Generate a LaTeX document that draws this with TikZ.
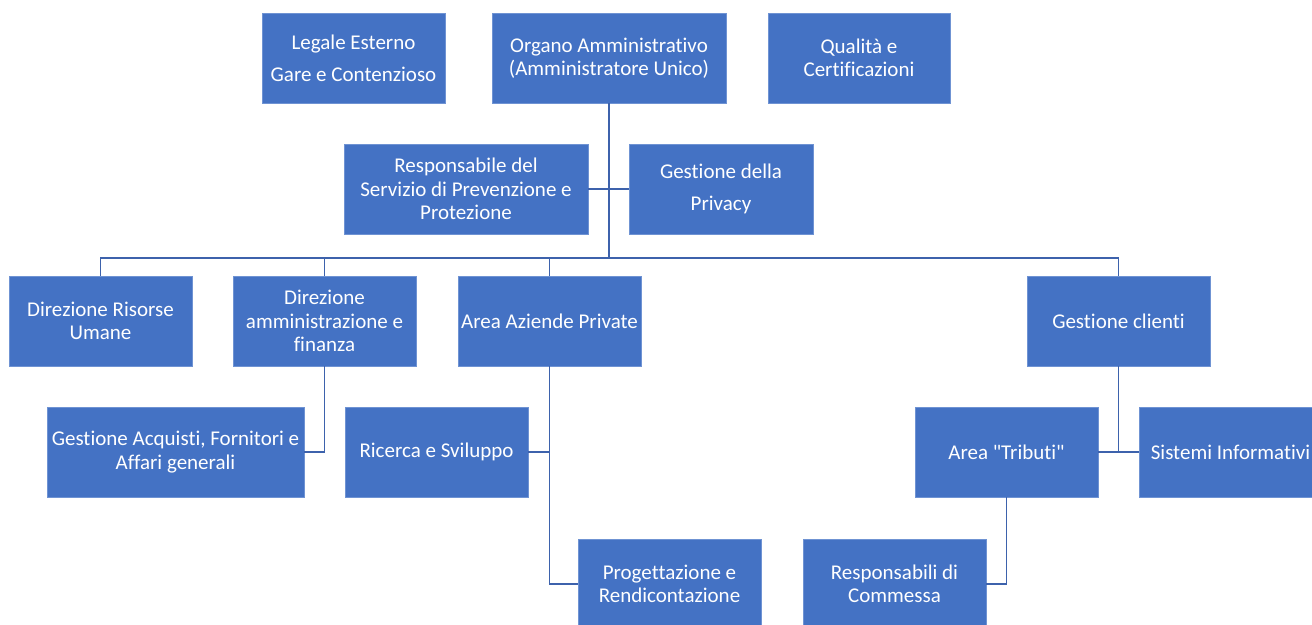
\documentclass[tikz,border=0pt]{standalone}
\usepackage{fontspec}
\setmainfont{Carlito}[Ligatures={NoCommon,TeXOff}]
\definecolor{boxblue}{HTML}{4472C4}
\definecolor{boxedge}{HTML}{6F93D3}
\definecolor{linkblue}{HTML}{3D62AC}
\begin{document}
\begin{tikzpicture}[x=1pt,y=-1pt,
  box/.style={rectangle, fill=boxblue, draw=boxedge, line width=0.6pt, text=white,
    minimum height=90pt, inner sep=1pt, align=center,
    font=\fontsize{21}{23.5}\selectfont},
  conn/.style={draw=linkblue, line width=1.6pt}]
\useasboundingbox (0,0) rectangle (1312,624);
\fill[white] (0,0) rectangle (1312,624);
% top row
\node[box, minimum width=183pt] (leg) at (353.5,58) {Legale Esterno\\[8.5pt]Gare e Contenzioso};
\node[box, minimum width=234pt] (org) at (609,58) {Organo Amministrativo\\(Amministratore Unico)};
\node[box, minimum width=182pt] (qual) at (859,58) {Qualità e\\Certificazioni};
% assistants
\node[box, minimum width=244pt] (rspp) at (466,189) {Responsabile del\\Servizio di Prevenzione e\\Protezione};
\node[box, minimum width=184pt] (priv) at (721,189) {Gestione della\\[8.5pt]Privacy};
% second level
\node[box, minimum width=183pt] (dru) at (100.5,321) {Direzione Risorse\\Umane};
\node[box, minimum width=183pt] (dam) at (324.5,321) {Direzione\\amministrazione e\\finanza};
\node[box, minimum width=183pt] (aap) at (549.5,321) {Area Aziende Private};
\node[box, minimum width=183pt] (gcl) at (1118.5,321) {Gestione clienti};
% third level
\node[box, minimum width=257pt] (gaq) at (175.5,452) {Gestione Acquisti, Fornitori e\\Affari generali};
\node[box, minimum width=183pt] (rsv) at (436.5,452) {Ricerca e Sviluppo};
\node[box, minimum width=183pt] (trib) at (1006.5,452) {Area "Tributi"};
\node[box, minimum width=183pt] (sist) at (1230.5,452) {Sistemi Informativi};
% fourth level
\node[box, minimum width=183pt] (prog) at (669.5,584) {Progettazione e\\Rendicontazione};
\node[box, minimum width=183pt] (resp) at (894.5,584) {Responsabili di\\Commessa};
% connectors
\draw[conn] (org.south) -- ++(0,155);
\draw[conn] (rspp.east) -- (priv.west);
\draw[conn] (dru.north) -- ++(0,-18) -| (gcl.north);
\draw[conn] (dam.north) -- ++(0,-18);
\draw[conn] (aap.north) -- ++(0,-18);
\draw[conn] (dam.south) |- (gaq.east);
\draw[conn] (aap.south) |- (prog.west);
\draw[conn] (rsv.east) -- (rsv.east -| aap.south);
\draw[conn] (gcl.south) -- ++(0,86);
\draw[conn] (trib.east) -- (sist.west);
\draw[conn] (trib.south) |- (resp.east);
\end{tikzpicture}
\end{document}
